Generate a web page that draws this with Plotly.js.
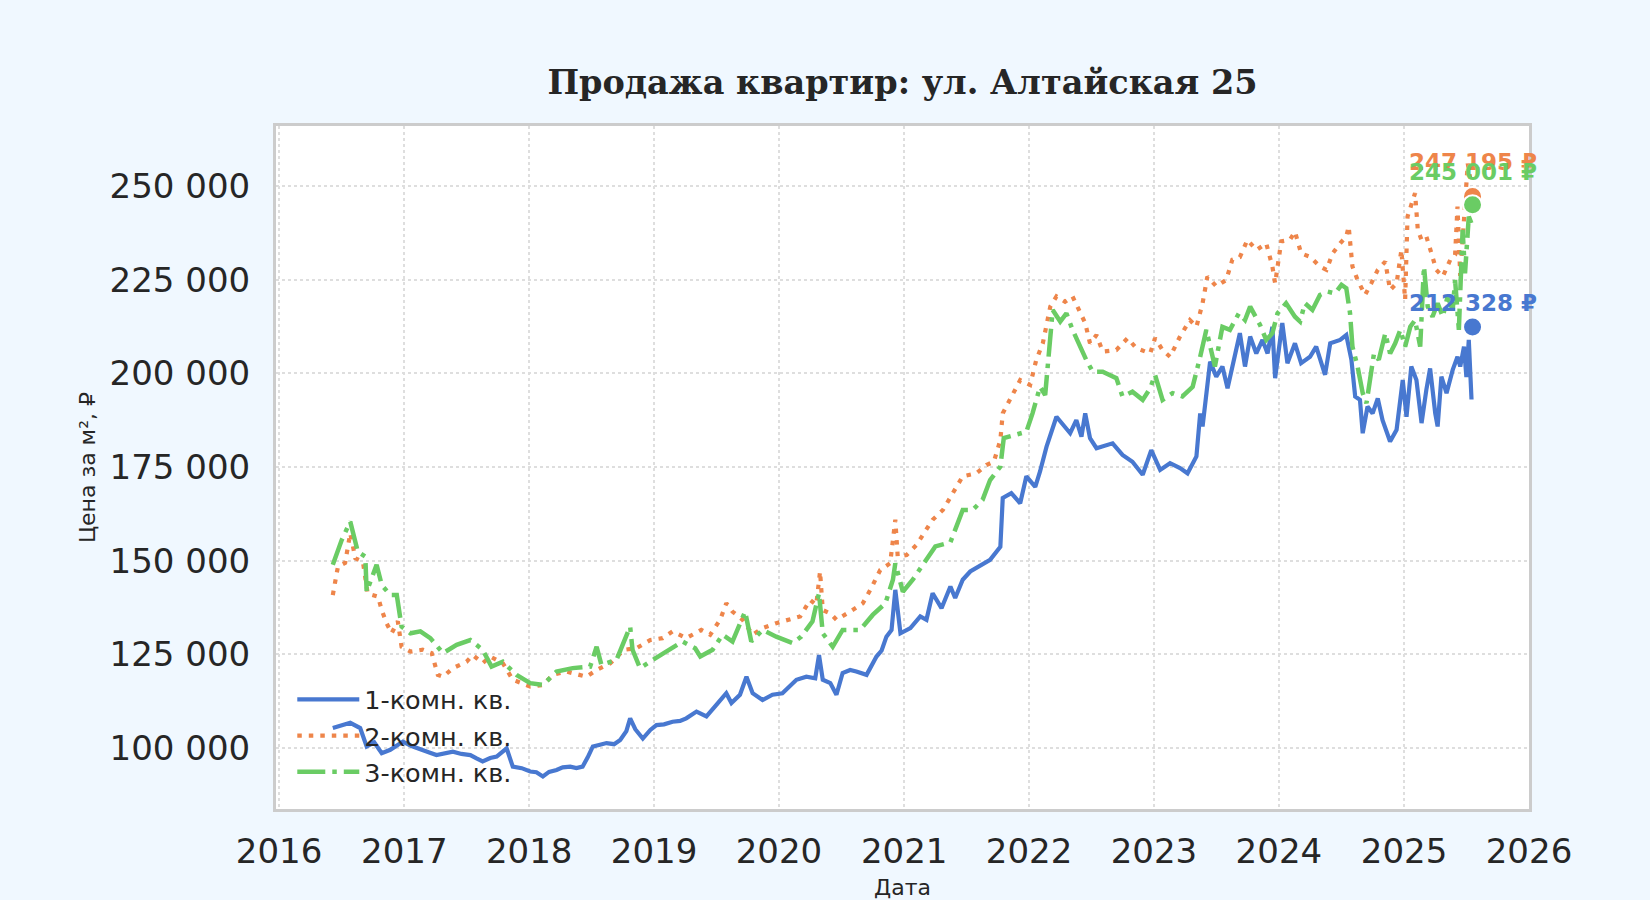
<!DOCTYPE html>
<html>
<head>
<meta charset="utf-8">
<script src="https://cdn.plot.ly/plotly-3.0.1.min.js"></script>
<style>
  html, body { margin: 0; padding: 0; background: #f0f8ff; }
  #chart { width: 1650px; height: 900px; }
</style>
</head>
<body>
<div id="chart"></div>
<script>
const years1 = [
  2016.43, 2016.50, 2016.57, 2016.65, 2016.70, 2016.76, 2016.82, 2016.89, 2016.99, 2017.06,
  2017.13, 2017.20, 2017.26, 2017.33, 2017.39, 2017.46, 2017.53, 2017.58, 2017.63, 2017.69,
  2017.74, 2017.82, 2017.87, 2017.94, 2018.01, 2018.06, 2018.11, 2018.16, 2018.22, 2018.27,
  2018.33, 2018.38, 2018.43, 2018.47, 2018.51, 2018.56, 2018.62, 2018.68, 2018.73, 2018.78,
  2018.81, 2018.85, 2018.91, 2018.97, 2019.02, 2019.08, 2019.15, 2019.21, 2019.26, 2019.34,
  2019.42, 2019.50, 2019.58, 2019.62, 2019.69, 2019.74, 2019.79, 2019.87, 2019.95, 2020.03,
  2020.09, 2020.14, 2020.22, 2020.29, 2020.32, 2020.35, 2020.41, 2020.46, 2020.51, 2020.57,
  2020.62, 2020.70, 2020.78, 2020.82, 2020.86, 2020.90, 2020.93, 2020.97, 2021.05, 2021.13,
  2021.18, 2021.23, 2021.30, 2021.37, 2021.41, 2021.47, 2021.53, 2021.61, 2021.69, 2021.77,
  2021.79, 2021.86, 2021.93, 2021.98, 2022.05, 2022.09, 2022.14, 2022.22, 2022.29, 2022.33,
  2022.38, 2022.42, 2022.45, 2022.49, 2022.54, 2022.63, 2022.67, 2022.75, 2022.83, 2022.91,
  2022.98, 2023.05, 2023.13, 2023.21, 2023.27, 2023.34, 2023.37, 2023.39, 2023.45, 2023.50,
  2023.55, 2023.59, 2023.63, 2023.69, 2023.73, 2023.77, 2023.82, 2023.87, 2023.91, 2023.95,
  2023.97, 2024.01, 2024.03, 2024.07, 2024.13, 2024.18, 2024.25, 2024.30, 2024.37, 2024.41,
  2024.49, 2024.54, 2024.58, 2024.61, 2024.65, 2024.67, 2024.71, 2024.75, 2024.79, 2024.83,
  2024.89, 2024.94, 2024.99, 2025.02, 2025.06, 2025.10, 2025.14, 2025.18, 2025.21, 2025.25,
  2025.27, 2025.30, 2025.34, 2025.39, 2025.43, 2025.45, 2025.48, 2025.50, 2025.52, 2025.54
]
const price1 = [
  105.3, 106.0, 106.7, 105.3, 100.4, 101.5, 98.6, 99.5, 101.7, 100.5,
  99.5, 98.8, 98.1, 98.6, 99.0, 98.4, 98.1, 97.2, 96.4, 97.3,
  97.7, 99.9, 95.0, 94.6, 93.7, 93.5, 92.4, 93.6, 94.1, 94.8,
  95.0, 94.6, 95.0, 97.5, 100.4, 100.8, 101.3, 101.0, 102.1, 104.5,
  107.9, 105.0, 102.5, 104.8, 106.1, 106.3, 107.0, 107.2, 107.9, 109.7,
  108.4, 111.5, 114.6, 112.0, 114.2, 119.0, 114.6, 112.8, 114.2, 114.6,
  116.5, 118.2, 119.0, 118.6, 124.8, 118.2, 117.3, 114.2, 120.0, 120.8,
  120.4, 119.5, 124.4, 126.0, 129.7, 131.5, 142.2, 130.6, 132.0, 135.1,
  134.2, 141.3, 137.3, 143.1, 140.0, 144.9, 147.1, 148.5, 150.2, 153.7,
  166.7, 168.0, 165.3, 172.5, 169.7, 173.8, 180.4, 188.4, 185.8, 184.0,
  187.5, 183.1, 189.3, 182.7, 180.0, 180.9, 181.3, 178.2, 176.4, 172.9,
  179.5, 174.2, 176.0, 174.7, 173.3, 177.8, 189.3, 185.8, 203.1, 199.1,
  201.8, 196.0, 201.3, 210.7, 201.8, 209.8, 205.3, 208.9, 205.3, 212.4,
  198.7, 208.0, 213.4, 202.7, 208.0, 202.7, 204.4, 207.1, 199.6, 208.0,
  208.9, 210.2, 203.6, 193.8, 192.9, 184.0, 191.1, 189.3, 193.3, 187.5,
  181.8, 184.9, 198.2, 188.4, 201.8, 198.2, 186.7, 195.6, 201.3, 189.3,
  185.8, 199.1, 194.7, 200.9, 204.4, 201.8, 207.1, 199.0, 208.9, 193.0
]

const years2 = [
  2016.43, 2016.47, 2016.53, 2016.57, 2016.61, 2016.67, 2016.71, 2016.79, 2016.82, 2016.86,
  2016.90, 2016.95, 2016.98, 2017.05, 2017.15, 2017.22, 2017.27, 2017.31, 2017.39, 2017.50,
  2017.55, 2017.63, 2017.69, 2017.79, 2017.87, 2018.01, 2018.11, 2018.19, 2018.30, 2018.46,
  2018.54, 2018.65, 2018.76, 2018.86, 2018.97, 2019.07, 2019.15, 2019.26, 2019.38, 2019.45,
  2019.53, 2019.58, 2019.63, 2019.71, 2019.79, 2019.87, 2019.98, 2020.09, 2020.17, 2020.25,
  2020.30, 2020.33, 2020.35, 2020.41, 2020.46, 2020.57, 2020.67, 2020.73, 2020.81, 2020.89,
  2020.93, 2020.95, 2021.02, 2021.10, 2021.17, 2021.23, 2021.31, 2021.37, 2021.47, 2021.58,
  2021.66, 2021.72, 2021.77, 2021.79, 2021.85, 2021.93, 2022.01, 2022.06, 2022.11, 2022.17,
  2022.22, 2022.29, 2022.35, 2022.41, 2022.45, 2022.49, 2022.54, 2022.59, 2022.70, 2022.79,
  2022.86, 2022.97, 2023.01, 2023.07, 2023.13, 2023.21, 2023.29, 2023.34, 2023.39, 2023.43,
  2023.50, 2023.58, 2023.63, 2023.69, 2023.75, 2023.82, 2023.90, 2023.95, 2023.97, 2024.02,
  2024.09, 2024.13, 2024.18, 2024.25, 2024.33, 2024.38, 2024.43, 2024.49, 2024.54, 2024.56,
  2024.59, 2024.63, 2024.69, 2024.74, 2024.79, 2024.85, 2024.89, 2024.94, 2024.98, 2025.01,
  2025.03, 2025.09, 2025.11, 2025.14, 2025.18, 2025.22, 2025.26, 2025.31, 2025.37, 2025.41,
  2025.43, 2025.45, 2025.48, 2025.51, 2025.53
]
const price2 = [
  140.8, 148.4, 149.4, 157.3, 150.6, 149.7, 141.2, 140.4, 136.8, 133.3,
  130.6, 133.8, 127.0, 125.7, 126.2, 125.3, 119.5, 119.0, 121.3, 123.0,
  124.8, 122.6, 124.4, 122.6, 118.2, 116.4, 116.8, 119.5, 120.4, 119.0,
  120.8, 122.6, 126.2, 126.6, 128.8, 129.3, 131.1, 129.3, 131.5, 130.2,
  134.2, 138.6, 136.4, 134.2, 130.2, 132.0, 133.3, 134.2, 135.1, 139.5,
  138.2, 147.1, 136.8, 135.9, 134.2, 136.4, 138.6, 142.2, 147.5, 149.3,
  160.9, 151.1, 151.5, 154.2, 157.8, 160.9, 163.5, 167.0, 172.5, 173.3,
  175.5, 176.4, 182.2, 189.3, 192.9, 198.2, 196.9, 203.6, 208.0, 217.8,
  220.5, 219.1, 220.5, 216.0, 213.4, 208.0, 210.2, 205.8, 206.2, 209.4,
  206.7, 205.3, 209.4, 206.2, 204.4, 209.8, 214.2, 212.4, 218.7, 225.8,
  223.2, 224.9, 230.3, 231.0, 235.6, 232.9, 234.7, 228.5, 224.0, 235.2,
  235.6, 237.8, 232.0, 231.1, 228.5, 227.6, 232.0, 234.7, 236.5, 239.2,
  228.5, 224.9, 220.9, 224.0, 227.6, 229.8, 222.2, 224.0, 232.9, 219.6,
  241.8, 248.1, 238.3, 235.6, 236.5, 232.0, 227.6, 225.8, 230.3, 231.6,
  244.5, 226.0, 240.0, 256.0, 252.0
]

const years3 = [
  2016.43, 2016.50, 2016.57, 2016.63, 2016.69, 2016.70, 2016.78, 2016.82, 2016.89, 2016.94,
  2016.98, 2017.05, 2017.13, 2017.21, 2017.31, 2017.42, 2017.53, 2017.63, 2017.70, 2017.79,
  2017.90, 2018.01, 2018.11, 2018.22, 2018.35, 2018.49, 2018.54, 2018.58, 2018.70, 2018.81,
  2018.83, 2018.89, 2018.99, 2019.10, 2019.23, 2019.33, 2019.37, 2019.47, 2019.55, 2019.63,
  2019.73, 2019.78, 2019.87, 2019.98, 2020.11, 2020.18, 2020.27, 2020.32, 2020.35, 2020.43,
  2020.51, 2020.65, 2020.75, 2020.85, 2020.91, 2020.93, 2020.99, 2021.07, 2021.15, 2021.25,
  2021.37, 2021.47, 2021.55, 2021.63, 2021.69, 2021.77, 2021.80, 2021.90, 2021.98, 2022.03,
  2022.09, 2022.13, 2022.17, 2022.19, 2022.25, 2022.30, 2022.35, 2022.41, 2022.46, 2022.51,
  2022.59, 2022.70, 2022.75, 2022.83, 2022.91, 2022.97, 2023.01, 2023.07, 2023.15, 2023.23,
  2023.31, 2023.37, 2023.42, 2023.49, 2023.55, 2023.61, 2023.68, 2023.73, 2023.77, 2023.85,
  2023.90, 2023.95, 2023.99, 2024.06, 2024.13, 2024.17, 2024.21, 2024.27, 2024.33, 2024.39,
  2024.45, 2024.50, 2024.54, 2024.57, 2024.59, 2024.63, 2024.67, 2024.70, 2024.74, 2024.76,
  2024.80, 2024.85, 2024.89, 2024.93, 2024.97, 2025.01, 2025.05, 2025.09, 2025.13, 2025.16,
  2025.19, 2025.23, 2025.27, 2025.31, 2025.35, 2025.39, 2025.41, 2025.44, 2025.47, 2025.49,
  2025.52, 2025.54
]
const price3 = [
  148.9, 155.5, 160.4, 152.4, 151.1, 141.7, 148.9, 143.5, 140.8, 140.8,
  132.4, 130.6, 131.1, 129.3, 125.3, 127.5, 128.8, 126.2, 121.7, 123.0,
  119.5, 117.3, 116.8, 120.4, 121.3, 121.7, 127.0, 122.2, 123.5, 132.4,
  126.2, 121.3, 123.5, 125.7, 128.4, 126.6, 124.4, 126.2, 130.2, 128.4,
  136.4, 128.4, 131.5, 129.7, 128.0, 129.7, 133.8, 141.3, 130.6, 127.0,
  131.5, 131.5, 135.5, 138.6, 144.9, 149.3, 141.7, 144.9, 148.9, 153.8,
  154.9, 163.5, 163.5, 166.2, 171.5, 175.1, 182.7, 183.5, 184.4, 189.3,
  196.4, 194.2, 210.7, 216.9, 213.8, 216.0, 211.6, 207.1, 203.6, 200.4,
  200.4, 198.7, 193.8, 195.1, 192.9, 196.0, 199.6, 192.9, 194.7, 193.8,
  196.4, 204.4, 211.6, 201.8, 212.4, 211.6, 216.0, 214.2, 217.8, 212.9,
  208.9, 210.7, 216.0, 218.7, 215.1, 213.8, 218.7, 216.9, 220.9, 221.8,
  221.3, 223.6, 222.7, 216.0, 207.1, 201.8, 194.7, 192.0, 200.0, 205.3,
  203.6, 210.7, 205.3, 208.0, 211.6, 207.1, 212.4, 214.2, 207.1, 228.5,
  217.8, 215.1, 218.7, 215.1, 220.5, 216.9, 224.9, 211.6, 238.3, 226.7,
  241.8, 240.0
]

const seriesNames = ['1-комн. кв.', '2-комн. кв.', '3-комн. кв.']
const seriesColors = ['#4878d0', '#ee854a', '#6acc64']
const lastYear = 2025.55
const lastPrices = [212328, 247195, 245001]
const lastLabels = ['212 328 ₽', '247 195 ₽', '245 001 ₽']

const yTickVals = [100000, 125000, 150000, 175000, 200000, 225000, 250000]
const yTickText = ['100 000', '125 000', '150 000', '175 000', '200 000', '225 000', '250 000']

function toDate(y) {
  const yr = Math.floor(y)
  const start = Date.UTC(yr, 0, 1)
  const end = Date.UTC(yr + 1, 0, 1)
  return new Date(start + (y - yr) * (end - start)).toISOString().slice(0, 10)
}

const font = 'DejaVu Sans, sans-serif'
const ink = '#262626'

const lineStyles = [
  { width: 4.2 },
  { width: 4.2, dash: '4.5px,7px' },
  { width: 4.5, dash: '28px,7px,4.5px,7px' }
]
const allYears = [years1, years2, years3]
const allPrices = [price1, price2, price3]

const data = []
for (let i = 0; i < 3; i++) {
  data.push({
    type: 'scatter',
    mode: 'lines',
    name: seriesNames[i],
    x: allYears[i].map(toDate),
    y: allPrices[i].map(function(v) { return v * 1000 }),
    line: Object.assign({ color: seriesColors[i] }, lineStyles[i]),
    legendgroup: 'g' + i
  })
}
for (let i = 0; i < 3; i++) {
  data.push({
    type: 'scatter',
    mode: 'markers',
    x: [toDate(lastYear)],
    y: [lastPrices[i]],
    marker: { size: 19, color: seriesColors[i], line: { width: 2, color: 'white' } },
    showlegend: false,
    hoverinfo: 'skip'
  })
}

const shifts = [24, 34, 33]
const annotations = lastPrices.map(function(p, i) {
  return {
    x: toDate(lastYear), y: p, xref: 'x', yref: 'y',
    text: lastLabels[i], showarrow: false, yshift: shifts[i],
    font: { family: font, size: 23, color: seriesColors[i], weight: 'bold' }
  }
})

const layout = {
  width: 1650,
  height: 900,
  paper_bgcolor: '#f0f8ff',
  plot_bgcolor: '#ffffff',
  margin: { l: 276, r: 121, t: 126, b: 91 },
  title: {
    text: 'Продажа квартир: ул. Алтайская 25',
    x: 0.5, xref: 'paper', y: 0.909, yanchor: 'middle',
    font: { family: 'DejaVu Serif, serif', size: 33.5, color: ink, weight: 'bold' }
  },
  xaxis: {
    type: 'date',
    range: [toDate(2015.976), '2026-01-01'],
    tick0: '2016-01-01',
    dtick: 'M12',
    tickformat: '%Y',
    showgrid: true, gridcolor: '#dedede', griddash: 'dot', gridwidth: 2,
    zeroline: false,
    showline: true, mirror: true, linecolor: '#cccccc', linewidth: 3,
    ticks: 'outside', ticklen: 10, tickcolor: 'rgba(0,0,0,0)',
    tickfont: { family: font, size: 34, color: ink },
    title: { text: 'Дата', standoff: 12, font: { family: font, size: 22, color: ink } }
  },
  yaxis: {
    range: [83700, 266000],
    tickvals: yTickVals,
    ticktext: yTickText,
    showgrid: true, gridcolor: '#dedede', griddash: 'dot', gridwidth: 2,
    zeroline: false,
    showline: true, mirror: true, linecolor: '#cccccc', linewidth: 3,
    ticks: 'outside', ticklen: 16, tickcolor: 'rgba(0,0,0,0)',
    tickfont: { family: font, size: 34, color: ink },
    title: { text: 'Цена за м², ₽', standoff: 8, font: { family: font, size: 22, color: ink } }
  },
  legend: {
    x: 0.013, y: 0.02, xanchor: 'left', yanchor: 'bottom',
    bgcolor: 'rgba(255,255,255,0)',
    font: { family: font, size: 25.5, color: ink },
    itemwidth: 62,
    traceorder: 'grouped',
    tracegroupgap: 0
  },
  annotations: annotations,
  showlegend: true
}

Plotly.newPlot('chart', data, layout, { displayModeBar: false, staticPlot: true })
</script>
</body>
</html>
